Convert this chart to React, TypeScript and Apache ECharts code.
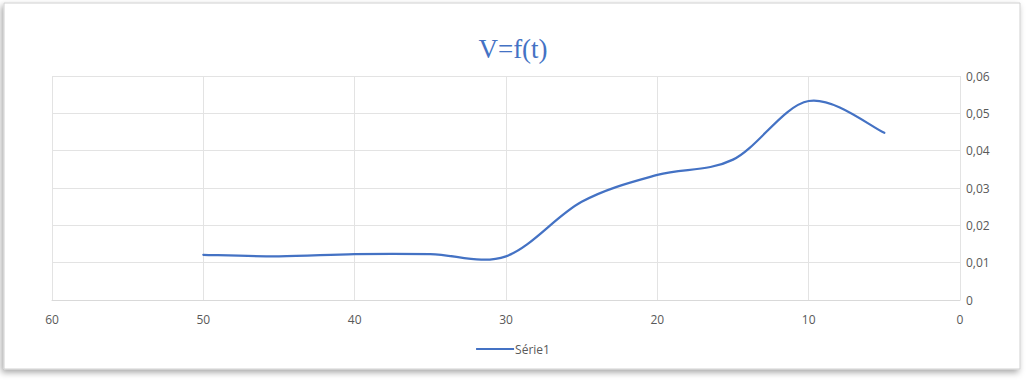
import React, { useEffect, useRef } from "react";
import * as echarts from "echarts";

const tValues = [50, 45, 40, 35, 30, 25, 20, 15, 10, 5];
const vValues = [0.0121, 0.0117, 0.0123, 0.0123, 0.0117, 0.0263, 0.0335, 0.0376, 0.0533, 0.0448];
const seriesName = "Série1";
const titleText = "V=f(t)";

export default function App() {
  const ref = useRef<HTMLDivElement>(null);
  useEffect(() => {
    if (!ref.current) return;
    const chart = echarts.init(ref.current, undefined, { renderer: "svg" });
    const data = tValues.map((t, i) => [t, vValues[i]]);
    const lineColor = "#4472C4";
    chart.setOption({
      animation: false,
      backgroundColor: "#ffffff",
      graphic: [
        {
          type: "rect",
          shape: { x: 4, y: 3, width: 1016, height: 366 },
          style: {
            fill: "#ffffff",
            stroke: "#d0d0d0",
            lineWidth: 1,
            shadowBlur: 6,
            shadowColor: "rgba(0,0,0,0.35)",
            shadowOffsetX: -2,
            shadowOffsetY: 3,
          },
          z: -10,
          silent: true,
        },
      ],
      title: {
        text: titleText,
        left: "center",
        top: 30,
        textStyle: {
          fontFamily: "Liberation Serif",
          fontSize: 27,
          fontWeight: "normal",
          color: lineColor,
        },
      },
      legend: {
        bottom: 23,
        left: "center",
        data: [{ name: seriesName, icon: "rect", itemStyle: { color: lineColor } }],
        itemWidth: 38,
        itemHeight: 2,
        textStyle: { color: "#595959", fontSize: 12, fontFamily: "Open Sans", padding: [0, 0, 0, -4] },
      },
      grid: { left: 52, right: 66, top: 76, bottom: 83, containLabel: false },
      xAxis: {
        type: "value",
        min: 0,
        max: 60,
        interval: 10,
        inverse: true,
        axisLine: { show: true, lineStyle: { color: "#d9d9d9" } },
        axisTick: { show: false },
        axisLabel: { color: "#595959", fontSize: 12, fontFamily: "Open Sans", margin: 13 },
        splitLine: { show: true, lineStyle: { color: "#e3e3e3" } },
      },
      yAxis: {
        type: "value",
        position: "right",
        min: 0,
        max: 0.06,
        interval: 0.01,
        axisLine: { show: false },
        axisTick: { show: false },
        axisLabel: {
          color: "#595959",
          fontSize: 12,
          fontFamily: "Open Sans",
          margin: 6,
          formatter: (v: number) => (v === 0 ? "0" : v.toFixed(2).replace(".", ",")),
        },
        splitLine: { show: true, lineStyle: { color: "#e3e3e3" } },
      },
      series: [
        {
          name: seriesName,
          type: "custom",
          data,
          encode: { x: 0, y: 1 },
          itemStyle: { color: lineColor },
          renderItem: (params: any, api: any) => {
            if (params.dataIndex !== 0) return null;
            const pts = data.map((d) => api.coord(d));
            const n = pts.length;
            let d = `M${pts[0][0]},${pts[0][1]}`;
            for (let i = 0; i < n - 1; i++) {
              const p0 = pts[Math.max(i - 1, 0)];
              const p1 = pts[i];
              const p2 = pts[i + 1];
              const p3 = pts[Math.min(i + 2, n - 1)];
              const c1x = p1[0] + (p2[0] - p0[0]) / 6;
              const c1y = p1[1] + (p2[1] - p0[1]) / 6;
              const c2x = p2[0] - (p3[0] - p1[0]) / 6;
              const c2y = p2[1] - (p3[1] - p1[1]) / 6;
              d += ` C${c1x},${c1y} ${c2x},${c2y} ${p2[0]},${p2[1]}`;
            }
            return {
              type: "path",
              shape: { pathData: d },
              style: { fill: "none", stroke: lineColor, lineWidth: 2.25, lineJoin: "round", lineCap: "round" },
            };
          },
        },
      ],
    });
    return () => chart.dispose();
  }, []);
  return (
    <div
      ref={ref}
      style={{ position: "fixed", left: 0, top: 0, width: 1026, height: 383 }}
    />
  );
}
